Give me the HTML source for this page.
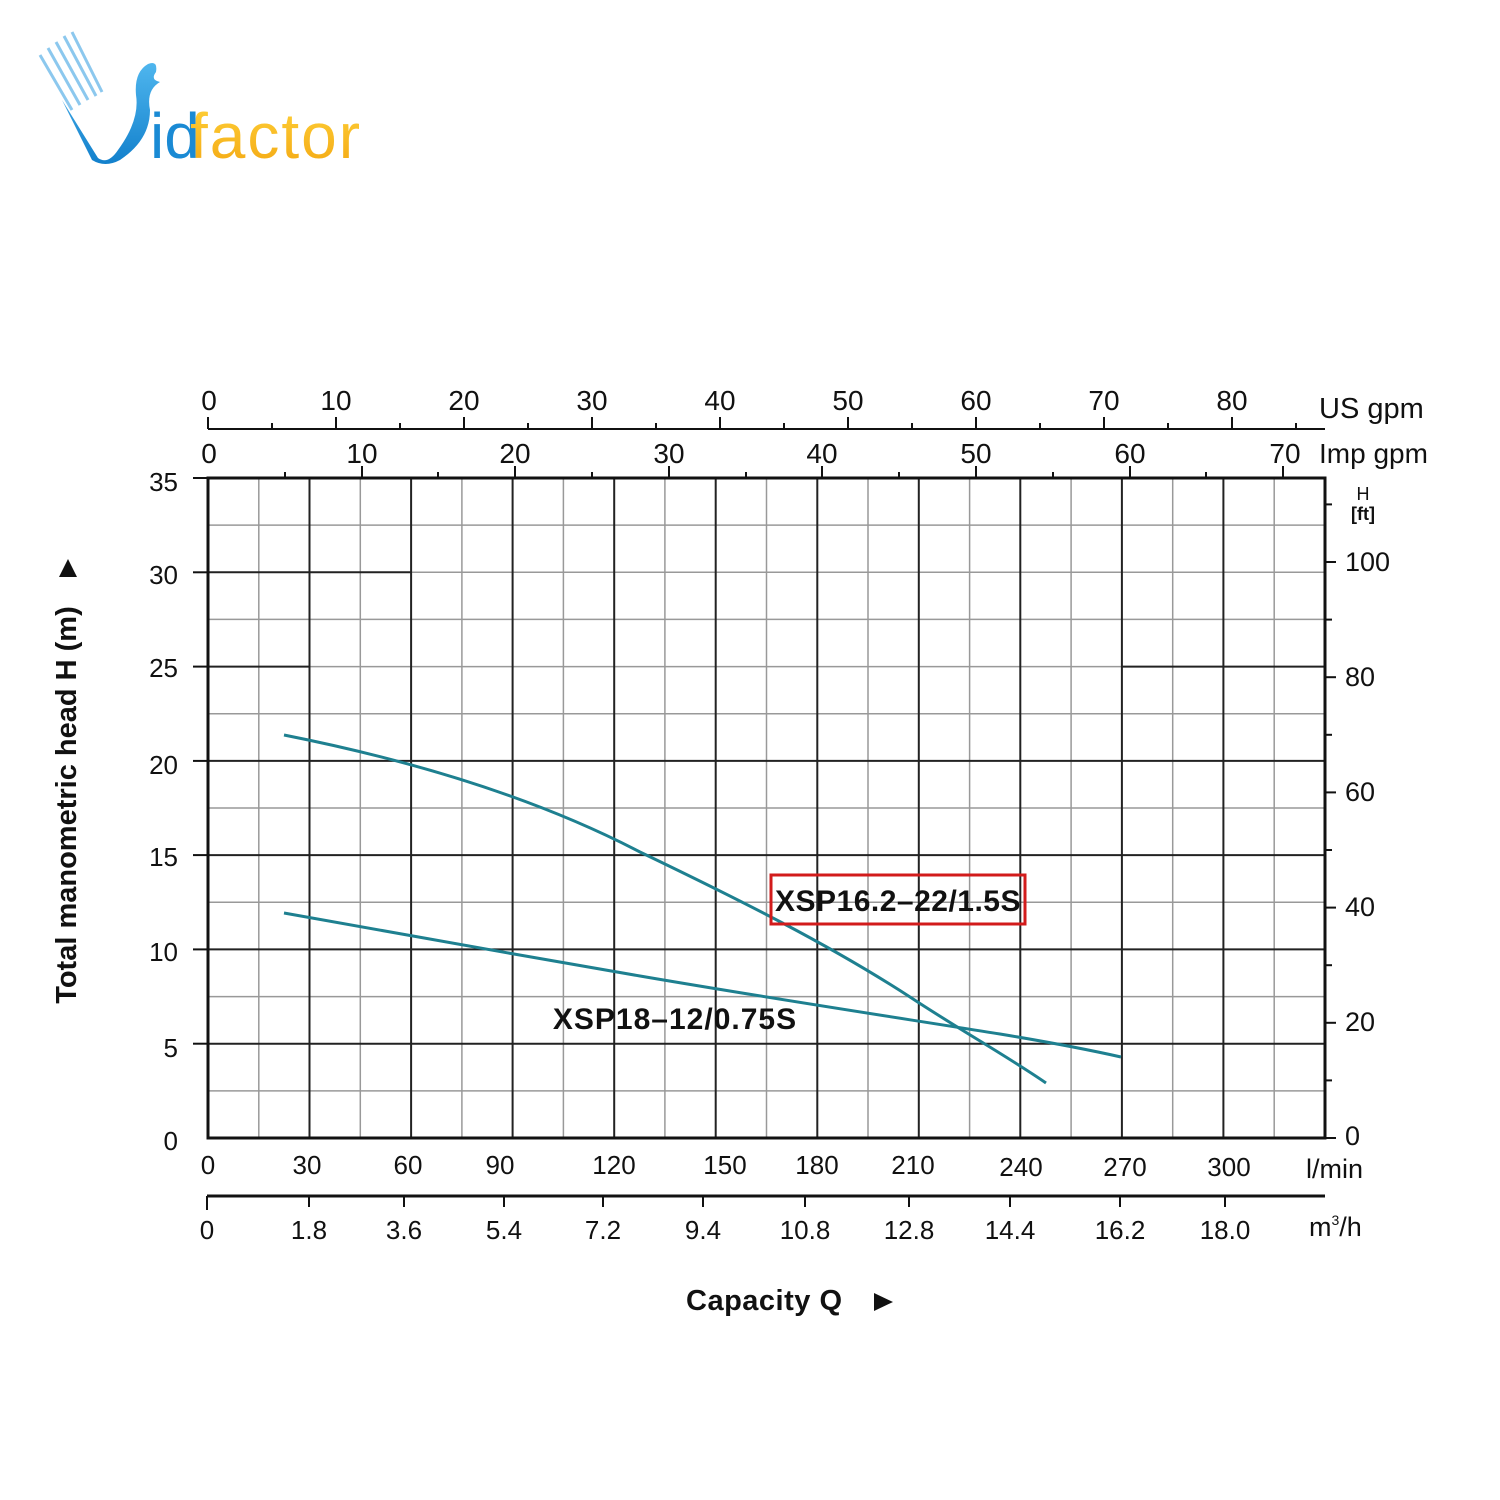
<!DOCTYPE html>
<html><head><meta charset="utf-8"><style>
html,body{margin:0;padding:0;background:#fff}
svg{display:block}
text{font-family:"Liberation Sans",Arial,sans-serif;fill:#111}
</style></head><body>
<svg width="1500" height="1500" viewBox="0 0 1500 1500" xmlns="http://www.w3.org/2000/svg">
<rect width="1500" height="1500" fill="#fff"/>
<defs><linearGradient id="lg" x1="0" y1="0" x2="0" y2="1"><stop offset="0" stop-color="#4fb6ee"/><stop offset="1" stop-color="#1280cc"/></linearGradient>
<linearGradient id="yg" x1="0" y1="0" x2="0" y2="1"><stop offset="0" stop-color="#ffd23a"/><stop offset="1" stop-color="#f3a712"/></linearGradient></defs>
<g stroke="#8cc8ee" stroke-width="3">
<line x1="40" y1="55" x2="72" y2="110"/><line x1="48" y1="48" x2="80" y2="105"/><line x1="56" y1="42" x2="88" y2="100"/><line x1="64" y1="36" x2="96" y2="96"/><line x1="72" y1="32" x2="102" y2="92"/>
</g>
<path d="M62 100 L98 158 Q108 165 118 150 Q140 120 136 95 Q134 72 148 64 Q158 60 156 72 Q150 80 160 82 Q146 90 150 110 Q150 140 120 160 Q105 168 92 160 Z" fill="url(#lg)"/>
<text x="150" y="158" font-size="64" style="fill:#1a8ad4" letter-spacing="0">id</text>
<text x="190" y="158" font-size="64" style="fill:url(#yg)" letter-spacing="2">factor</text>

<g stroke="#999" stroke-width="1.5">
<line x1="258.8" y1="478" x2="258.8" y2="1138"/><line x1="360.3" y1="478" x2="360.3" y2="1138"/><line x1="461.9" y1="478" x2="461.9" y2="1138"/><line x1="563.4" y1="478" x2="563.4" y2="1138"/><line x1="664.9" y1="478" x2="664.9" y2="1138"/><line x1="766.5" y1="478" x2="766.5" y2="1138"/><line x1="868" y1="478" x2="868" y2="1138"/><line x1="969.6" y1="478" x2="969.6" y2="1138"/><line x1="1071.1" y1="478" x2="1071.1" y2="1138"/><line x1="1172.7" y1="478" x2="1172.7" y2="1138"/><line x1="1274.2" y1="478" x2="1274.2" y2="1138"/>
<line x1="208" y1="525.1" x2="1325" y2="525.1"/><line x1="208" y1="619.4" x2="1325" y2="619.4"/><line x1="208" y1="713.7" x2="1325" y2="713.7"/><line x1="208" y1="808" x2="1325" y2="808"/><line x1="208" y1="902.3" x2="1325" y2="902.3"/><line x1="208" y1="996.6" x2="1325" y2="996.6"/><line x1="208" y1="1090.9" x2="1325" y2="1090.9"/>
<line x1="411" y1="572.3" x2="1325" y2="572.3"/><line x1="310" y1="666.6" x2="1122" y2="666.6"/>
</g>
<g stroke="#222" stroke-width="2">
<line x1="309.5" y1="478" x2="309.5" y2="1138"/><line x1="411.1" y1="478" x2="411.1" y2="1138"/><line x1="512.6" y1="478" x2="512.6" y2="1138"/><line x1="614.2" y1="478" x2="614.2" y2="1138"/><line x1="715.7" y1="478" x2="715.7" y2="1138"/><line x1="817.3" y1="478" x2="817.3" y2="1138"/><line x1="918.8" y1="478" x2="918.8" y2="1138"/><line x1="1020.3" y1="478" x2="1020.3" y2="1138"/><line x1="1121.9" y1="478" x2="1121.9" y2="1138"/><line x1="1223.4" y1="478" x2="1223.4" y2="1138"/>
<line x1="208" y1="572.3" x2="411" y2="572.3"/><line x1="208" y1="666.6" x2="310" y2="666.6"/><line x1="1122" y1="666.6" x2="1325" y2="666.6"/>
<line x1="208" y1="760.9" x2="1325" y2="760.9"/><line x1="208" y1="855.1" x2="1325" y2="855.1"/><line x1="208" y1="949.4" x2="1325" y2="949.4"/><line x1="208" y1="1043.7" x2="1325" y2="1043.7"/>
</g>
<rect x="208" y="478" width="1117" height="660" fill="none" stroke="#111" stroke-width="3"/>
<g stroke="#111" stroke-width="2">
<line x1="193" y1="478" x2="208" y2="478"/><line x1="193" y1="572.3" x2="208" y2="572.3"/><line x1="193" y1="666.6" x2="208" y2="666.6"/><line x1="193" y1="760.9" x2="208" y2="760.9"/><line x1="193" y1="855.1" x2="208" y2="855.1"/><line x1="193" y1="949.4" x2="208" y2="949.4"/><line x1="193" y1="1043.7" x2="208" y2="1043.7"/>
</g>
<g font-size="26" text-anchor="end">
<text x="178" y="491">35</text><text x="178" y="584">30</text><text x="178" y="677">25</text><text x="178" y="774">20</text><text x="178" y="866">15</text><text x="178" y="961">10</text><text x="178" y="1057">5</text><text x="178" y="1150">0</text>
</g>
<g stroke="#111" stroke-width="2">
<line x1="1325" y1="1138" x2="1336" y2="1138"/><line x1="1325" y1="1080.4" x2="1332" y2="1080.4"/><line x1="1325" y1="1022.8" x2="1336" y2="1022.8"/><line x1="1325" y1="965.2" x2="1332" y2="965.2"/><line x1="1325" y1="907.6" x2="1336" y2="907.6"/><line x1="1325" y1="850" x2="1332" y2="850"/><line x1="1325" y1="792.4" x2="1336" y2="792.4"/><line x1="1325" y1="734.8" x2="1332" y2="734.8"/><line x1="1325" y1="677.2" x2="1336" y2="677.2"/><line x1="1325" y1="619.6" x2="1332" y2="619.6"/><line x1="1325" y1="562" x2="1336" y2="562"/><line x1="1325" y1="504.4" x2="1332" y2="504.4"/>
</g>
<g font-size="27">
<text x="1345" y="571">100</text><text x="1345" y="686">80</text><text x="1345" y="801">60</text><text x="1345" y="916">40</text><text x="1345" y="1031">20</text><text x="1345" y="1145">0</text>
</g>
<text x="1363" y="500" font-size="18" text-anchor="middle">H</text>
<text x="1363" y="520" font-size="18" text-anchor="middle" font-weight="bold">[ft]</text>
<line x1="208" y1="429" x2="1325" y2="429" stroke="#111" stroke-width="2"/>
<g stroke="#111" stroke-width="2">
<line x1="208" y1="417" x2="208" y2="429"/><line x1="272" y1="423" x2="272" y2="429"/><line x1="336" y1="417" x2="336" y2="429"/><line x1="400" y1="423" x2="400" y2="429"/><line x1="464" y1="417" x2="464" y2="429"/><line x1="528" y1="423" x2="528" y2="429"/><line x1="592" y1="417" x2="592" y2="429"/><line x1="656" y1="423" x2="656" y2="429"/><line x1="720" y1="417" x2="720" y2="429"/><line x1="784" y1="423" x2="784" y2="429"/><line x1="848" y1="417" x2="848" y2="429"/><line x1="912" y1="423" x2="912" y2="429"/><line x1="976" y1="417" x2="976" y2="429"/><line x1="1040" y1="423" x2="1040" y2="429"/><line x1="1104" y1="417" x2="1104" y2="429"/><line x1="1168" y1="423" x2="1168" y2="429"/><line x1="1232" y1="417" x2="1232" y2="429"/><line x1="1296" y1="423" x2="1296" y2="429"/>
</g>
<g font-size="28" text-anchor="middle">
<text x="209" y="410">0</text><text x="336" y="410">10</text><text x="464" y="410">20</text><text x="592" y="410">30</text><text x="720" y="410">40</text><text x="848" y="410">50</text><text x="976" y="410">60</text><text x="1104" y="410">70</text><text x="1232" y="410">80</text>
</g>
<text x="1319" y="418" font-size="29">US gpm</text>
<g stroke="#111" stroke-width="2">
<line x1="285" y1="472" x2="285" y2="478"/><line x1="362" y1="466" x2="362" y2="478"/><line x1="438" y1="472" x2="438" y2="478"/><line x1="515" y1="466" x2="515" y2="478"/><line x1="592" y1="472" x2="592" y2="478"/><line x1="669" y1="466" x2="669" y2="478"/><line x1="746" y1="472" x2="746" y2="478"/><line x1="822" y1="466" x2="822" y2="478"/><line x1="899" y1="472" x2="899" y2="478"/><line x1="976" y1="466" x2="976" y2="478"/><line x1="1053" y1="472" x2="1053" y2="478"/><line x1="1130" y1="466" x2="1130" y2="478"/><line x1="1206" y1="472" x2="1206" y2="478"/><line x1="1283" y1="466" x2="1283" y2="478"/>
</g>
<g font-size="28" text-anchor="middle">
<text x="209" y="463">0</text><text x="362" y="463">10</text><text x="515" y="463">20</text><text x="669" y="463">30</text><text x="822" y="463">40</text><text x="976" y="463">50</text><text x="1130" y="463">60</text><text x="1285" y="463">70</text>
</g>
<text x="1319" y="463" font-size="28">Imp gpm</text>
<g font-size="26" text-anchor="middle">
<text x="208" y="1174">0</text><text x="307" y="1174">30</text><text x="408" y="1174">60</text><text x="500" y="1174">90</text><text x="614" y="1174">120</text><text x="725" y="1174">150</text><text x="817" y="1174">180</text><text x="913" y="1174">210</text><text x="1021" y="1176">240</text><text x="1125" y="1176">270</text><text x="1229" y="1176">300</text>
</g>
<text x="1306" y="1178" font-size="27">l/min</text>
<line x1="207" y1="1196" x2="1325" y2="1196" stroke="#111" stroke-width="3"/>
<g stroke="#111" stroke-width="2">
<line x1="207" y1="1196" x2="207" y2="1210"/><line x1="309" y1="1196" x2="309" y2="1207"/><line x1="404" y1="1196" x2="404" y2="1207"/><line x1="504" y1="1196" x2="504" y2="1207"/><line x1="603" y1="1196" x2="603" y2="1207"/><line x1="703" y1="1196" x2="703" y2="1207"/><line x1="805" y1="1196" x2="805" y2="1207"/><line x1="909" y1="1196" x2="909" y2="1207"/><line x1="1010" y1="1196" x2="1010" y2="1207"/><line x1="1120" y1="1196" x2="1120" y2="1207"/><line x1="1225" y1="1196" x2="1225" y2="1207"/>
</g>
<g font-size="26" text-anchor="middle">
<text x="207" y="1239">0</text><text x="309" y="1239">1.8</text><text x="404" y="1239">3.6</text><text x="504" y="1239">5.4</text><text x="603" y="1239">7.2</text><text x="703" y="1239">9.4</text><text x="805" y="1239">10.8</text><text x="909" y="1239">12.8</text><text x="1010" y="1239">14.4</text><text x="1120" y="1239">16.2</text><text x="1225" y="1239">18.0</text>
</g>
<text x="1309" y="1236" font-size="27">m<tspan font-size="14" dy="-11">3</tspan><tspan dy="11">/h</tspan></text>
<g fill="none" stroke="#1e8090" stroke-width="3">
<path d="M284 735 C420 762 540 800 640 852 C740 900 830 945 910 997 C960 1030 1010 1058 1046 1083"/>
<path d="M284 913 C420 938 520 955 640 976 C780 1000 900 1018 1000 1034 C1060 1044 1090 1050 1121 1057"/>
</g>
<rect x="771" y="875" width="254" height="49" fill="none" stroke="#d21b1b" stroke-width="3"/>
<text x="898" y="911" font-size="30" font-weight="bold" text-anchor="middle" letter-spacing="0.5">XSP16.2–22/1.5S</text>
<text x="675" y="1029" font-size="30" font-weight="bold" text-anchor="middle" letter-spacing="1">XSP18–12/0.75S</text>
<text transform="translate(76 805) rotate(-90)" font-size="29" font-weight="bold" text-anchor="middle">Total manometric head H (m)</text>
<polygon points="59,577 77,577 68,559" fill="#111"/>
<text x="686" y="1310" font-size="29" font-weight="bold" letter-spacing="0.5">Capacity Q</text>
<polygon points="874,1293 874,1311 893,1302" fill="#111"/>
</svg>
</body></html>
